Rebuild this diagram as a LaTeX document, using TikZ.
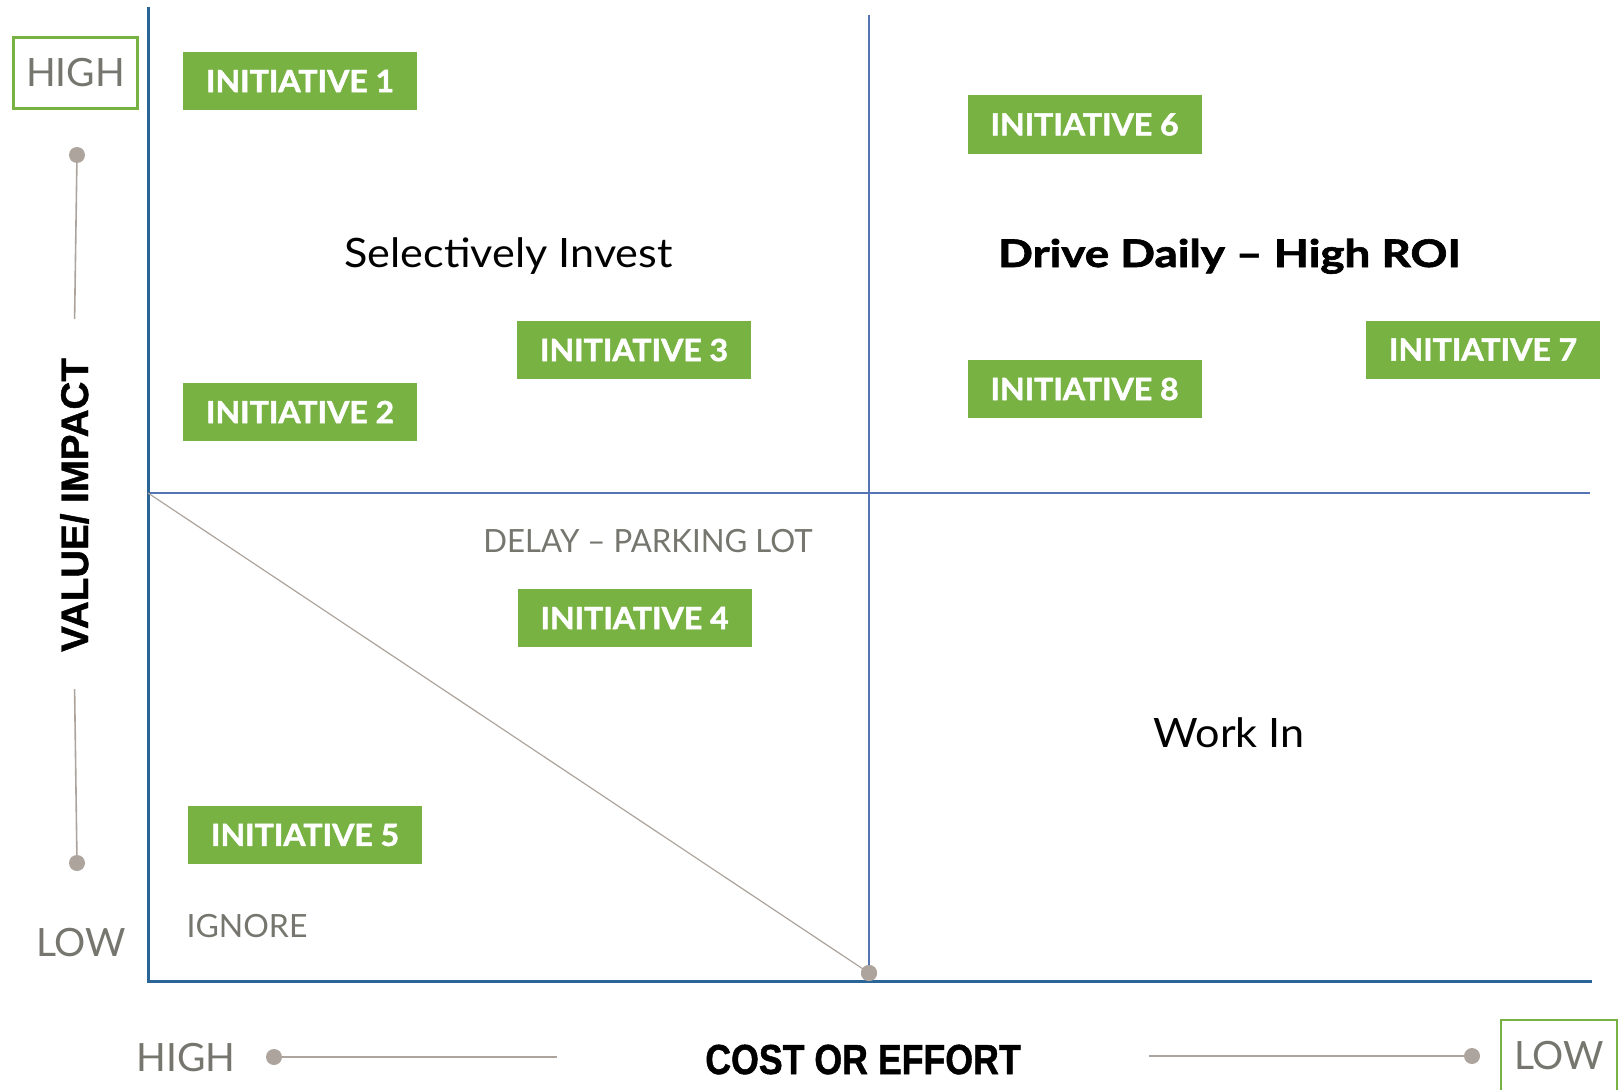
\documentclass[tikz,border=0pt]{standalone}
\usepackage{fontspec}
\setmainfont{Lato}
\newfontfamily\heavyfont{Lato}[BoldFeatures={FakeBold=1.6}]
\newfontfamily\headfont{Liberation Sans}[BoldFeatures={FakeBold=1.2}]
\definecolor{initgreen}{HTML}{77B243}
\definecolor{axisblue}{HTML}{2B6597}
\definecolor{gridblue}{HTML}{5574B4}
\definecolor{slidergray}{HTML}{ADA59D}
\definecolor{labelgray}{HTML}{76766F}
\newcommand{\fs}[1]{\fontsize{#1}{#1}\selectfont}
\tikzset{
  initiative/.style={fill=initgreen, text=white, minimum width=234pt, minimum height=58pt,
    inner sep=0pt, font=\heavyfont\bfseries\fs{30.5}},
  initlabel/.style={text=white, inner sep=0pt, xscale=1.05, font=\heavyfont\bfseries\fs{30.5}},
  rangebox/.style={draw=initgreen, line width=2.5pt, inner sep=0pt, text=labelgray, font=\fs{39}},
  rangetext/.style={text=labelgray, font=\fs{39}, anchor=base, inner sep=0pt},
  quadtext/.style={text=black, font=\fs{40.5}, anchor=base, inner sep=0pt, xscale=1.066},
  zonetext/.style={text=labelgray, font=\fs{32}, anchor=base, inner sep=0pt},
  axistitle/.style={text=black, font=\headfont\bfseries, anchor=base, inner sep=0pt},
  sliderdot/.style={circle, fill=slidergray, minimum size=16pt, inner sep=0pt},
  sliderline/.style={draw=slidergray, line width=1.6pt},
  axisline/.style={draw=axisblue, line width=3pt},
  gridline/.style={draw=gridblue, line width=2.6pt},
}
\begin{document}
\begin{tikzpicture}[x=1pt, y=-1pt]
\useasboundingbox[fill=white] (0,0) rectangle (1624,1089);

% quadrant frame
\coordinate (axtop) at (148,7);
\coordinate (origin) at (148,981);
\coordinate (axright) at (1592,981);
\coordinate (midtop) at (869,15);
\coordinate (midbot) at (869,981);
\coordinate (midleft) at (148,493);
\coordinate (midright) at (1590,493);
\draw[gridline] (midtop) -- (midbot);
\draw[gridline] (midleft) -- (midright);
\draw[axisline] (axtop) -- (origin) -- (axright);

% parking-lot diagonal
\node[sliderdot] (diagend) at (869,973) {};
\draw[sliderline, line width=1.2pt] (midleft) -- (diagend.center);
\node[sliderdot] at (869,973) {};

% quadrant labels
\node[quadtext] (selinv) at (508.5,267) {Selectively Invest};
\node[quadtext, font=\heavyfont\bfseries\fs{38}, xscale=1.13] (drive) at (1229.5,267) {Drive Daily – High ROI};
\node[quadtext] (workin) at (1229,747) {Work In};
\node[zonetext, xscale=0.975] (delay) at (648,552) {DELAY – PARKING LOT};
\node[zonetext] (ignore) at (247,937) {IGNORE};

% initiatives
\foreach \name/\px/\py/\num in {i1/300/81/1, i2/300/412/2, i3/634/350/3, i4/634.5/618/4,
    i5/305/835/5, i6/1084.5/124.5/6, i7/1483/349.5/7, i8/1084.5/389/8} {
  \node[initiative] (\name) at (\px,\py) {};
  \node[initlabel] at (\name.center) {INITIATIVE \num};
}

% vertical scale: value / impact
\node[rangebox, minimum width=124pt, minimum height=71pt] (vhigh) at (75.5,73) {HIGH};
\node[rangetext] (vlow) at (81,956) {LOW};
\node[sliderdot] (vtopdot) at (77,155) {};
\coordinate (vtopend) at (74.6,319);
\coordinate (vbotstart) at (74.6,689);
\node[sliderdot] (vbotdot) at (77,863) {};
\draw[sliderline] (vtopdot.center) -- (vtopend);
\draw[sliderline] (vbotstart) -- (vbotdot.center);
\node[axistitle, font=\headfont\bfseries\fs{38.5}, rotate=90] (vtitle) at (88,505) {VALUE/ IMPACT};

% horizontal scale: cost or effort
\node[rangetext] (hhigh) at (186,1071) {HIGH};
\node[rangebox, minimum width=116pt, minimum height=72pt] (hlow) at (1559,1056) {LOW};
\node[sliderdot] (hleftdot) at (274,1057) {};
\coordinate (hleftend) at (557,1057);
\coordinate (hrightstart) at (1149,1056);
\node[sliderdot] (hrightdot) at (1472,1056) {};
\draw[sliderline] (hleftdot.center) -- (hleftend);
\draw[sliderline] (hrightstart) -- (hrightdot.center);
\node[axistitle, font=\headfont\bfseries\fs{42}, xscale=0.85] (htitle) at (863,1074) {COST OR EFFORT};
\end{tikzpicture}
\end{document}
